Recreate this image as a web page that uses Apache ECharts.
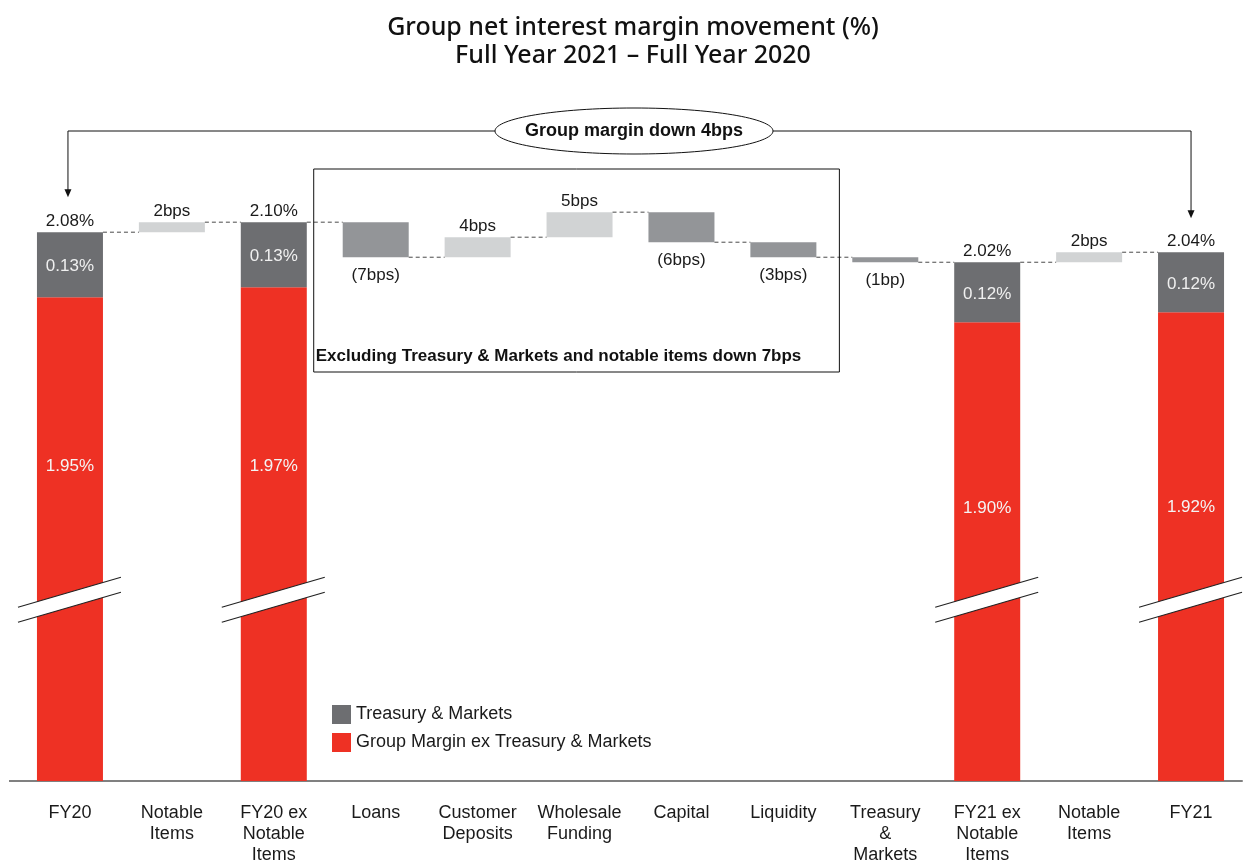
<!DOCTYPE html>
<html>
<head>
<meta charset="utf-8">
<title>Group net interest margin movement</title>
<script src="https://cdn.jsdelivr.net/npm/echarts@6/dist/echarts.min.js"></script>
<style>
  html, body { margin: 0; padding: 0; background: #fff; }
  #chart { width: 1244px; height: 860px; }
</style>
</head>
<body>
<div id="chart"></div>
<script>
const categories = ['FY20', 'Notable\nItems', 'FY20 ex\nNotable\nItems', 'Loans', 'Customer\nDeposits',
  'Wholesale\nFunding', 'Capital', 'Liquidity', 'Treasury\n&\nMarkets', 'FY21 ex\nNotable\nItems',
  'Notable\nItems', 'FY21'];
// total columns, split in two parts (null = movement column)
const marginExTM = [1.95, null, 1.97, null, null, null, null, null, null, 1.90, null, 1.92];
const treasuryMarkets = [0.13, null, 0.13, null, null, null, null, null, null, 0.12, null, 0.12];
// movements in basis points (null = total column)
const movementBps = [null, 2, null, -7, 4, 5, -6, -3, -1, null, 2, null];

const RED = '#ee3124', DARK = '#6d6e71', LIGHT = '#d1d3d4', MID = '#939598';
const FONT = '"Liberation Sans", Arial, sans-serif';

const r2 = v => Math.round(v * 100) / 100;
const bpsText = b => {
  const n = Math.abs(b);
  const t = n + (n === 1 ? 'bp' : 'bps');
  return b < 0 ? '(' + t + ')' : t;
};

// where the red label sits inside each (broken) red bar
const redLabelDist = { 0: 161, 2: 171, 9: 177, 11: 187 };

const redData = [], baseData = [], greyData = [], upData = [], downData = [], topData = [], levels = [];
let level = 0;
categories.forEach((c, i) => {
  if (marginExTM[i] != null) {
    level = r2(marginExTM[i] + treasuryMarkets[i]);
    redData.push({ value: marginExTM[i], label: { show: true, distance: redLabelDist[i] } });
    baseData.push(0);
    greyData.push(treasuryMarkets[i]);
    upData.push(0);
    downData.push(0);
    topData.push({ value: 0, label: { show: true, formatter: level.toFixed(2) + '%' } });
  } else {
    const next = r2(level + movementBps[i] / 100);
    const b = movementBps[i];
    redData.push(0);
    baseData.push(Math.min(level, next));
    greyData.push(0);
    upData.push(b > 0 ? b / 100 : 0);
    downData.push(b < 0 ? -b / 100 : 0);
    topData.push({ value: 0, label: { show: false } });
    level = next;
  }
  levels.push(level);
});

const chart = echarts.init(document.getElementById('chart'));
const BW = 66;

const option = {
  animation: false,
  grid: { left: 19, right: 2, top: 100, bottom: 79, outerBoundsMode: 'none', containLabel: false },
  legend: {
    data: ['Treasury & Markets', 'Group Margin ex Treasury & Markets'],
    orient: 'vertical', left: 327, top: 700,
    itemWidth: 19, itemHeight: 19, itemGap: 9, icon: 'rect',
    textStyle: { fontSize: 18, color: '#1a1a1a', fontFamily: FONT }
  },
  xAxis: {
    type: 'category',
    data: categories,
    axisTick: { show: false },
    axisLine: { lineStyle: { color: '#808080', width: 2 } },
    axisLabel: { interval: 0, fontSize: 18, lineHeight: 21, margin: 22, color: '#1a1a1a', fontFamily: FONT }
  },
  yAxis: { type: 'value', min: 0.984, max: 2.344, show: false, splitLine: { show: false } },
  series: [
    {
      name: 'Group Margin ex Treasury & Markets', type: 'bar', stack: 'w', barWidth: BW,
      itemStyle: { color: RED }, data: redData,
      label: { show: false, position: 'insideTop', color: '#f4f4f4', fontSize: 17, fontFamily: FONT,
        formatter: p => p.value ? p.value.toFixed(2) + '%' : '' }
    },
    {
      name: 'base', type: 'bar', stack: 'w', barWidth: BW, silent: true,
      itemStyle: { color: 'rgba(0,0,0,0)' }, data: baseData
    },
    {
      name: 'Treasury & Markets', type: 'bar', stack: 'w', barWidth: BW,
      itemStyle: { color: DARK }, data: greyData,
      label: { show: true, position: 'inside', offset: [0, 2], color: '#f0f0f0', fontSize: 17, fontFamily: FONT,
        formatter: p => p.value ? p.value.toFixed(2) + '%' : '' }
    },
    {
      name: 'Increase', type: 'bar', stack: 'w', barWidth: BW,
      itemStyle: { color: LIGHT }, data: upData,
      label: { show: true, position: 'top', distance: 2, color: '#1a1a1a', fontSize: 17, fontFamily: FONT,
        formatter: p => p.value ? bpsText(movementBps[p.dataIndex]) : '' }
    },
    {
      name: 'Decrease', type: 'bar', stack: 'w', barWidth: BW,
      itemStyle: { color: MID }, data: downData,
      label: { show: true, position: 'bottom', distance: 10, color: '#1a1a1a', fontSize: 17, fontFamily: FONT,
        formatter: p => p.value ? bpsText(movementBps[p.dataIndex]) : '' }
    },
    {
      name: 'Total', type: 'bar', stack: 'w', barWidth: BW, silent: true,
      itemStyle: { color: 'rgba(0,0,0,0)' }, data: topData,
      label: { position: 'top', distance: 2, color: '#1a1a1a', fontSize: 17, fontFamily: FONT }
    },
    {
      name: 'connectors', type: 'custom', silent: true, z: 3,
      data: levels.slice(0, -1).map((v, i) => [i, v]),
      renderItem: (params, api) => {
        const i = api.value(0), v = api.value(1);
        const a = api.coord([i, v]);
        const b = api.coord([i + 1, v]);
        return {
          type: 'line',
          shape: { x1: a[0] + BW / 2, y1: a[1], x2: b[0] - BW / 2, y2: b[1] },
          style: { stroke: '#4a4a4a', lineWidth: 1, lineDash: [4, 3] }
        };
      }
    }
  ]
};
chart.setOption(option);

// annotations anchored to the axes
const px = (i, v) => chart.convertToPixel({ seriesIndex: 0 }, [i, v]);
const g = [];

const titleFont = '500 25px "Noto Sans", sans-serif';
g.push({ type: 'text', z: 100, style: { text: 'Group net interest margin movement (%)', x: 633, y: 28,
  align: 'center', verticalAlign: 'middle', textAlign: 'center', textVerticalAlign: 'middle',
  font: titleFont, fill: '#111' } });
g.push({ type: 'text', z: 100, style: { text: 'Full Year 2021 \u2013 Full Year 2020', x: 633, y: 56,
  align: 'center', verticalAlign: 'middle', textAlign: 'center', textVerticalAlign: 'middle',
  font: titleFont, fill: '#111' } });

// axis line runs a little past the plot on the left
const axisY = px(0, 0.984)[1];
g.push({ type: 'line', z: 100, shape: { x1: 9, y1: axisY, x2: 20, y2: axisY }, style: { stroke: '#808080', lineWidth: 2 } });

// box around the core movements
const bxL = px(3, 2)[0] - 62, bxR = px(7, 2)[0] + 56;
g.push({ type: 'rect', z: 100, shape: { x: bxL, y: 169, width: bxR - bxL, height: 203 },
  style: { fill: 'none', stroke: '#111', lineWidth: 1 } });
g.push({ type: 'text', z: 100, style: { text: 'Excluding Treasury & Markets and notable items down 7bps',
  x: (bxL + bxR) / 2 - 18, y: 356, align: 'center', verticalAlign: 'middle', textAlign: 'center',
  textVerticalAlign: 'middle', font: 'bold 17px ' + FONT, fill: '#111' } });

// group margin bracket
const cx0 = px(0, 2)[0] - 2, cx11 = px(11, 2)[0];
const tip0 = px(0, levels[0])[1] - 35, tip11 = px(11, levels[11])[1] - 34;
const ell = { cx: 634, cy: 131, rx: 139, ry: 23 };
g.push({ type: 'polyline', z: 100, shape: { points: [[ell.cx - ell.rx, ell.cy], [cx0, ell.cy], [cx0, tip0 - 7]] },
  style: { stroke: '#111', lineWidth: 1, fill: null } });
g.push({ type: 'polyline', z: 100, shape: { points: [[ell.cx + ell.rx, ell.cy], [cx11, ell.cy], [cx11, tip11 - 7]] },
  style: { stroke: '#111', lineWidth: 1, fill: null } });
[[cx0, tip0], [cx11, tip11]].forEach(([x, y]) => {
  g.push({ type: 'polygon', z: 100, shape: { points: [[x, y], [x - 3.5, y - 8], [x + 3.5, y - 8]] },
    style: { fill: '#111' } });
});
g.push({ type: 'ellipse', z: 101, shape: ell, style: { fill: '#fff', stroke: '#111', lineWidth: 1 } });
g.push({ type: 'text', z: 102, style: { text: 'Group margin down 4bps', x: ell.cx, y: ell.cy,
  align: 'center', verticalAlign: 'middle', textAlign: 'center', textVerticalAlign: 'middle',
  font: 'bold 18px ' + FONT, fill: '#111' } });

// axis break marks on the red bars
const breakValue = 1.345;
marginExTM.forEach((v, i) => {
  if (v == null) return;
  const cx = px(i, breakValue)[0], ym = px(i, breakValue)[1];
  const x1 = cx - 52, x2 = cx + 51;
  g.push({ type: 'polygon', z: 100, shape: { points: [[x1, ym + 7], [x2, ym - 23], [x2, ym - 8], [x1, ym + 22]] },
    style: { fill: '#fff' } });
  g.push({ type: 'line', z: 101, shape: { x1: x1, y1: ym + 7, x2: x2, y2: ym - 23 }, style: { stroke: '#222', lineWidth: 1.2 } });
  g.push({ type: 'line', z: 101, shape: { x1: x1, y1: ym + 22, x2: x2, y2: ym - 8 }, style: { stroke: '#222', lineWidth: 1.2 } });
});

chart.setOption({ graphic: { elements: g } });
</script>
</body>
</html>
